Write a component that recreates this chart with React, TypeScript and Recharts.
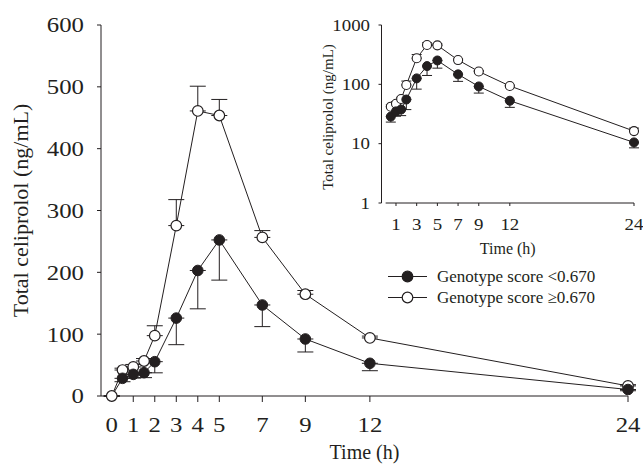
import React from 'react';
import {
  ErrorBar,
  Label,
  Legend,
  Line,
  LineChart,
  ReferenceLine,
  XAxis,
  YAxis,
} from 'recharts';

// sampling times (h)
const hours = [0, 0.5, 1, 1.5, 2, 3, 4, 5, 7, 9, 12, 24];

// genotype score < 0.670 (filled circles), mean and SD (plotted downwards)
const lowScore = [0, 28.6, 35, 37.7, 55.5, 126, 203, 252.4, 147.2, 92.2, 52.9, 10.5];
const lowScoreSd = [0, 5.5, 6, 8, 18, 43, 62, 65, 35, 21, 12, 2];

// genotype score >= 0.670 (open circles), mean and SD (plotted upwards)
const highScore = [0, 42, 47, 56.6, 97.6, 275.6, 461, 453.6, 256.5, 164.6, 93.9, 16.3];
const highScoreSd = [0, 3, 4, 4, 16, 42, 40, 26, 11, 6, 3, 2];

const lowName = 'Genotype score <0.670';
const highName = 'Genotype score \u22650.670';
const seriesNames = [lowName, highName];

const mainXTicks = [0, 1, 2, 3, 4, 5, 7, 9, 12, 24];
const mainYTicks = [0, 100, 200, 300, 400, 500, 600];
const insetXTicks = [1, 3, 5, 7, 9, 12, 24];
const insetYTicks = [1, 10, 100, 1000];

const ink = '#231f20';
const serif = '"Liberation Serif", "Times New Roman", Times, serif';

const rows = hours.map((t, i) => ({
  t,
  low: lowScore[i],
  lowErr: [lowScoreSd[i], 0],
  high: highScore[i],
  highErr: [0, highScoreSd[i]],
}));
const logRows = rows.filter((r) => r.t > 0);

// tick digits in the figure are a bit wider than Times, so stretch them
const WideTick = (props: any) => {
  const { x, y, payload, textAnchor, fs, side } = props;
  return (
    <g transform={`translate(${x},${y}) scale(1.18,1)`}>
      <text
        x={0}
        y={0}
        dy={side === 'left' ? '0.35em' : '0.71em'}
        textAnchor={textAnchor}
        fontSize={fs}
        fontFamily={serif}
        fill={ink}
      >
        {payload.value}
      </text>
    </g>
  );
};

// x axis title, baseline a fixed distance above the bottom of the axis box
const xTitle = (fs: number, bottomGap: number) => (props: any) => {
  const vb = props.viewBox ?? {};
  return (
    <text
      x={vb.x + vb.width / 2}
      y={vb.y + vb.height - bottomGap}
      textAnchor="middle"
      fontSize={fs}
      fontFamily={serif}
      fill={ink}
    >
      Time (h)
    </text>
  );
};

const FilledDot = (r: number) => (props: any) => {
  const { cx, cy, index, value } = props;
  if (value === 0) return <g key={`f${index}`} />;
  return <circle key={`f${index}`} cx={cx} cy={cy} r={r} fill={ink} stroke={ink} strokeWidth={1} />;
};

const LegendRows = (props: any) => {
  const items = [...(props.payload ?? [])].sort(
    (a: any, b: any) => seriesNames.indexOf(a.value) - seriesNames.indexOf(b.value)
  );
  return (
    <div>
      {items.map((item: any) => (
        <div key={item.value} style={{ display: 'flex', alignItems: 'center', height: 21 }}>
          <svg width={49} height={21}>
            <line x1={0} x2={39} y1={10.5} y2={10.5} stroke={ink} strokeWidth={1} />
            <circle
              cx={19.5}
              cy={10.5}
              r={5.3}
              fill={item.value === lowName ? ink : '#fff'}
              stroke={ink}
              strokeWidth={1.2}
            />
          </svg>
          <span style={{ fontFamily: serif, fontSize: 17, color: ink, whiteSpace: 'nowrap' }}>
            {item.value}
          </span>
        </div>
      ))}
    </div>
  );
};

const App: React.FC = () => {
  return (
    <div style={{ position: 'absolute', left: 0, top: 0, width: 643, height: 464, background: '#fff' }}>
      <LineChart width={643} height={464} data={rows} margin={{ top: 25, right: 15, bottom: 0, left: 0 }}>
        <XAxis
          dataKey="t"
          type="number"
          domain={[-0.5, 24]}
          ticks={mainXTicks}
          height={68}
          stroke={ink}
          tickSize={6}
          tickMargin={15.5}
          tick={<WideTick fs={21} side="bottom" />}
        >
          <Label content={xTitle(20, 5)} />
        </XAxis>
        <YAxis
          type="number"
          domain={[0, 600]}
          ticks={mainYTicks}
          width={101}
          stroke={ink}
          tickSize={4}
          tickMargin={13}
          tick={<WideTick fs={21} side="left" />}
          label={{
            value: 'Total celiprolol (ng/mL)',
            angle: -90,
            position: 'center',
            dx: -30.5,
            fontSize: 22,
            fill: ink,
            fontFamily: serif,
          }}
        />
        <Legend
          layout="vertical"
          align="center"
          verticalAlign="middle"
          wrapperStyle={{ left: 388, top: 266, width: 250 }}
          content={<LegendRows />}
        />
        <Line
          dataKey="high"
          name={highName}
          stroke={ink}
          strokeWidth={1}
          dot={{ r: 5.3, fill: '#fff', stroke: ink, strokeWidth: 1.2 }}
          isAnimationActive={false}
        >
          <ErrorBar dataKey="highErr" direction="y" width={8} stroke={ink} strokeWidth={1} />
        </Line>
        <Line
          dataKey="low"
          name={lowName}
          stroke={ink}
          strokeWidth={1}
          dot={FilledDot(5.3)}
          isAnimationActive={false}
        >
          <ErrorBar dataKey="lowErr" direction="y" width={8} stroke={ink} strokeWidth={1} />
        </Line>
      </LineChart>

      <div style={{ position: 'absolute', left: 300, top: 0 }}>
        <LineChart width={343} height={263} data={logRows} margin={{ top: 25, right: 9, bottom: 0, left: 0 }}>
          <XAxis
            dataKey="t"
            type="number"
            domain={[-0.4, 24]}
            ticks={insetXTicks}
            height={60}
            stroke={ink}
            axisLine={false}
            tickSize={3}
            tickMargin={12.5}
            tick={<WideTick fs={16} side="bottom" />}
          >
            <Label content={xTitle(16, 9)} />
          </XAxis>
          <YAxis
            type="number"
            scale="log"
            domain={[1, 1000]}
            ticks={insetYTicks}
            allowDataOverflow
            width={81.5}
            stroke={ink}
            tickSize={3}
            tickMargin={8.5}
            tick={<WideTick fs={16} side="left" />}
            label={{
              value: 'Total celiprolol (ng/mL)',
              angle: -90,
              position: 'center',
              dx: -13.5,
              dy: 3,
              fontSize: 15,
              fill: ink,
              fontFamily: serif,
            }}
          />
          <ReferenceLine
            segment={[
              { x: 0, y: 1 },
              { x: 24, y: 1 },
            ]}
            stroke={ink}
            strokeWidth={1}
            ifOverflow="visible"
          />
          <Line
            dataKey="high"
            name={highName}
            stroke={ink}
            strokeWidth={1}
            dot={{ r: 4.5, fill: '#fff', stroke: ink, strokeWidth: 1.1 }}
            isAnimationActive={false}
          >
            <ErrorBar dataKey="highErr" direction="y" width={5} stroke={ink} strokeWidth={1} />
          </Line>
          <Line
            dataKey="low"
            name={lowName}
            stroke={ink}
            strokeWidth={1}
            dot={FilledDot(4.5)}
            isAnimationActive={false}
          >
            <ErrorBar dataKey="lowErr" direction="y" width={5} stroke={ink} strokeWidth={1} />
          </Line>
        </LineChart>
      </div>
    </div>
  );
};

export default App;
